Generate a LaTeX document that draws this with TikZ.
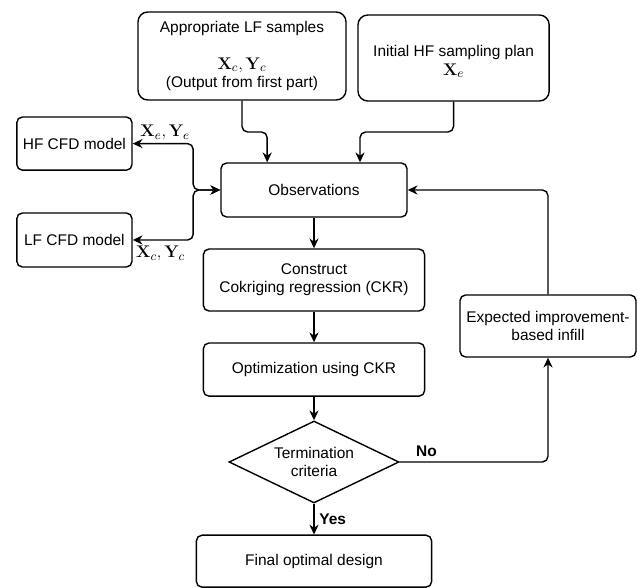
\documentclass[tikz,border=0pt]{standalone}
\usepackage[no-math]{fontspec}
\setmainfont{Liberation Sans}
\usetikzlibrary{arrows.meta, positioning, shapes.geometric}

\newcommand{\symsize}{\fontsize{13}{13}\selectfont}

\begin{document}
\begin{tikzpicture}[
    >={Stealth[length=7pt, width=6.5pt]}, % Set default arrow tip style
    font=\fontsize{11}{13}\selectfont, % Text size for all nodes
    box/.style={draw, line width=1pt, rounded corners=4pt, align=center, inner sep=2pt}, % Style for process boxes
    bigbox/.style={box, rounded corners=7pt}, % Style for the input boxes on top
    decision/.style={draw, line width=1pt, diamond, aspect=2.07, inner sep=0pt, align=center}, % Style for the check
    flow/.style={->, line width=1pt, rounded corners=4pt}, % Style for connectors
    answer/.style={font=\fontsize{11}{13}\selectfont\bfseries}, % Style for labels Yes, No
    sym/.style={font=\symsize} % Style for the data labels
]

    % Fix the page size
    \useasboundingbox (0,0) rectangle (15.95,-14.7);

    % Inputs
    \node[bigbox, minimum width=5.2cm, minimum height=2.2cm] (lfs) at (6.05,-1.40)
        {Appropriate LF samples\\[13pt]{\symsize$\mathbf{X}_c, \mathbf{Y}_c$}\\(Output from first part)};
    \node[bigbox, minimum width=4.78cm, minimum height=2.15cm] (hfplan) at (11.34,-1.45)
        {\mbox{}\\Initial HF sampling plan\\{\symsize$\mathbf{X}_e$}};

    % Solvers on the left
    \node[box, minimum width=2.88cm, minimum height=1.33cm] (hfcfd) at (1.86,-3.59) {HF CFD model};
    \node[box, minimum width=2.88cm, minimum height=1.35cm] (lfcfd) at (1.86,-6.0) {LF CFD model};

    % Main column
    \node[box, minimum width=4.65cm, minimum height=1.35cm] (obs) at (7.85,-4.75) {Observations};
    \node[box, minimum width=5.53cm, minimum height=1.55cm] (ckr) at (7.85,-7.0) {Construct\\Cokriging regression (CKR)};
    \node[box, minimum width=5.53cm, minimum height=1.33cm] (opt) at (7.85,-9.24) {Optimization using CKR};
    \node[decision, minimum width=4.25cm, minimum height=2.05cm] (term) at (7.85,-11.55) {Termination\\criteria};
    \node[box, minimum width=5.88cm, minimum height=1.3cm] (final) at (7.85,-14.03) {Final optimal design};

    % Infill box on the right
    \node[box, minimum width=4.4cm, minimum height=1.55cm] (ei) at (13.7,-8.15) {Expected improvement-\\based infill};

    % Bend points
    \coordinate (inl) at (6.68,-3.3);
    \coordinate (inh) at (9.0,-3.3);
    \coordinate (jn) at (4.83,-4.75);

    % Inputs into observations
    \draw[flow] (lfs.south) |- (inl) -- (obs.north -| inl);
    \draw[flow] (hfplan.south) |- (inh) -- (obs.north -| inh);

    % Exchange with the CFD models
    \draw[flow, <->] (hfcfd.east) node[sym, above right, xshift=3pt, inner sep=2pt] {$\mathbf{X}_e, \mathbf{Y}_e$} -| (jn) -- (obs.west);
    \draw[flow, <->] (lfcfd.east) node[sym, below right, yshift=-2pt, inner sep=2pt] {$\mathbf{X}_c, \mathbf{Y}_c$} -| (jn) -- (obs.west);

    % Main flow
    \draw[flow] (obs) -- (ckr);
    \draw[flow] (ckr) -- (opt);
    \draw[flow] (opt) -- (term);
    \draw[flow] (term) -- (final) node[midway, right, answer] {Yes};

    % Loop back
    \draw[flow] (term.east) -| (ei.south) node[pos=0.09, above, answer] {No};
    \draw[flow] (ei.north) |- (obs.east);

\end{tikzpicture}
\end{document}
